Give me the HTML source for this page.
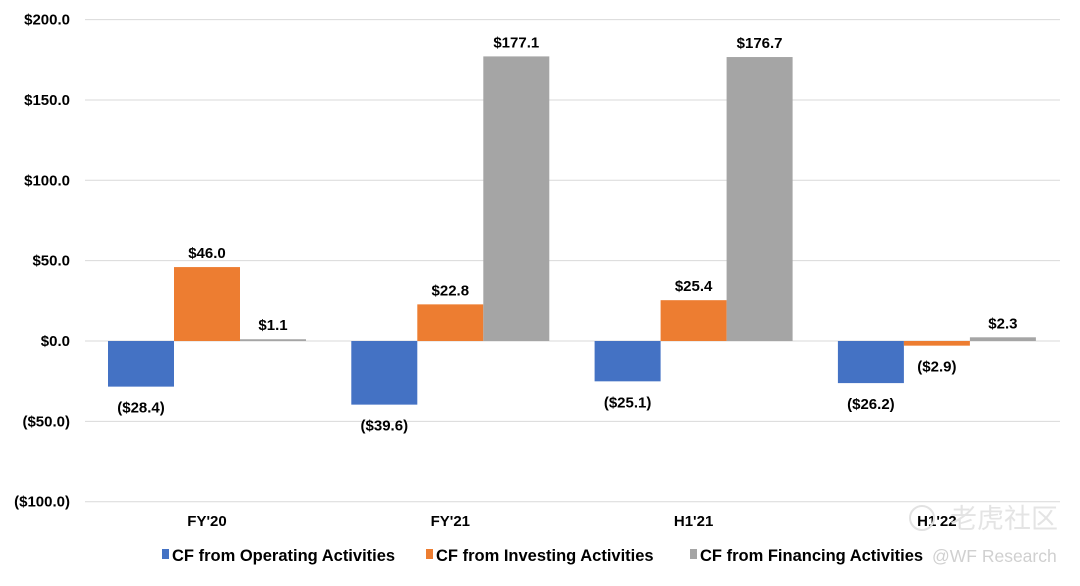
<!DOCTYPE html>
<html><head><meta charset="utf-8"><style>
body{margin:0;background:#fff;width:1080px;height:581px;overflow:hidden}
svg text{font-family:"Liberation Sans",Arial,sans-serif;font-weight:bold;font-size:15px;fill:#000}
</style></head><body>
<svg id="c" width="1080" height="581"></svg>
<script>
const categories=["FY'20","FY'21","H1'21","H1'22"];
const operating=[-28.4,-39.6,-25.1,-26.2];
const investing=[46.0,22.8,25.4,-2.9];
const financing=[1.1,177.1,176.7,2.3];
const ticks=[200,150,100,50,0,-50,-100];
const seriesNames=["CF from Operating Activities","CF from Investing Activities","CF from Financing Activities"];
const colors=["#4472c4","#ed7d31","#a5a5a5"];
const svg=document.getElementById('c');const NS='http://www.w3.org/2000/svg';
function y(v){return 341-v*1.607;}
function x(i){return 108+i*243.3;}
function mk(t,a,txt){const e=document.createElementNS(NS,t);for(const k in a)e.setAttribute(k,a[k]);if(txt!=null)e.textContent=txt;svg.appendChild(e);return e;}
function fmt(v){const s='$'+Math.abs(v).toFixed(1);return v<0?'('+s+')':s;}
ticks.forEach(t=>{
 const l=mk('line',{x1:85,x2:1060,y1:y(t),y2:y(t),stroke:'#d9d9d9','stroke-width':1});
 
 
 const tx=mk('text',{x:70,y:y(t)+5,'text-anchor':'end'},fmt(t));
 
 
});
const series=[operating,investing,financing];
categories.forEach((c,i)=>{
 series.forEach((s,j)=>{
  const v=s[i];const bx=x(i)+j*66;
  const r=mk('rect',{x:bx,y:Math.min(y(v),y(0)),width:66,height:Math.max(Math.abs(y(v)-y(0)),1),fill:colors[j]});
  
  
  const ly=v>=0?y(v)-9:y(v)+26;
  const t=mk('text',{x:bx+33,y:ly,'text-anchor':'middle'},fmt(v));
  
  
 });
 const ct=mk('text',{x:x(i)+99,y:526,'text-anchor':'middle'},c);
 
 
});
const lx=[162,426,690];
seriesNames.forEach((n,j)=>{
 const r=mk('rect',{x:lx[j],y:549,width:7,height:10,fill:colors[j]});
 
 
 const t=mk('text',{x:lx[j]+10,y:561,style:'font-size:16.5px'},n);
 
 
});
const c1=mk('circle',{cx:922,cy:518,r:12,fill:'none',stroke:'#e2e2e2','stroke-width':2});


const w1=mk('text',{x:950,y:528,style:'font-weight:normal;font-size:27px;fill:#e4e4e4;font-family:"Liberation Sans","Noto Sans CJK SC",sans-serif'},'老虎社区');


const w2=mk('text',{x:932,y:562,style:'font-weight:normal;font-size:17.5px;fill:#d0d0d0'},'@WF Research');


</script>
</body></html>
